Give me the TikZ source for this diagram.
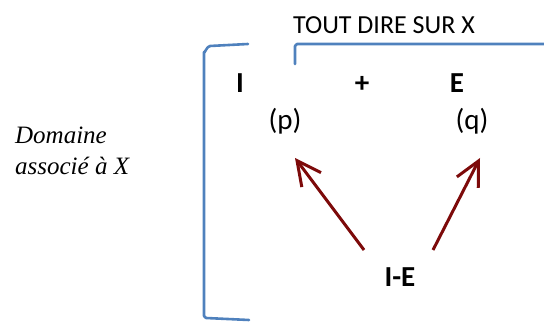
\documentclass[tikz,border=0pt]{standalone}
\usepackage{fontspec}
\setmainfont{Carlito}
\newfontfamily\serifit{Liberation Serif}
\usetikzlibrary{arrows.meta}
\definecolor{brblue}{RGB}{79,129,189}
\definecolor{arrred}{RGB}{125,10,10}
\tikzset{
  brk/.style={draw=brblue, line width=2.6pt, line cap=round, line join=round},
  arr/.style={draw=arrred, line width=3pt, -{Straight Barb[length=24pt,width=24pt,line width=3pt]}},
  lbl/.style={inner sep=0pt, font=\fontsize{29}{32}\selectfont},
  tlbl/.style={inner sep=0pt, font=\fontsize{26}{30}\selectfont},
  blbl/.style={inner sep=0pt, font=\fontsize{29}{32}\selectfont\bfseries},
  dlbl/.style={inner sep=0pt, anchor=base west, font=\serifit\itshape\fontsize{25}{30}\selectfont},
}
\begin{document}
\begin{tikzpicture}[x=1pt,y=-1pt]
\useasboundingbox (0,0) rectangle (544,323);
% left bracket
\draw[brk] (248,44) -- (210,46) to[out=180,in=-90] (204,52) -- (204,316) -- (206,318) -- (249,320);
% top bracket
\draw[brk] (295,64) -- (295,46) -- (297,44) -- (546,44);
\node[tlbl, anchor=base] (title) at (384,34) {TOUT DIRE SUR X};
\node[blbl, anchor=base] (I) at (240,93) {I};
\node[blbl, anchor=base] (plus) at (362,93) {+};
\node[blbl, anchor=base] (E) at (457,93) {E};
\node[lbl, anchor=base] (p) at (285,130) {(p)};
\node[lbl, anchor=base] (q) at (472,130) {(q)};
\node[blbl, anchor=base] (IE) at (400,287) {I-E};
\coordinate (a1s) at (364,250);
\coordinate (a1e) at (295,158);
\coordinate (a2s) at (433,250);
\coordinate (a2e) at (480,158);
\draw[arr] (a1s) -- (a1e);
\draw[arr] (a2s) -- (a2e);
\node[dlbl] (dom1) at (15,144) {Domaine};
\node[dlbl] (dom2) at (15,175) {associé à X};
\end{tikzpicture}
\end{document}
